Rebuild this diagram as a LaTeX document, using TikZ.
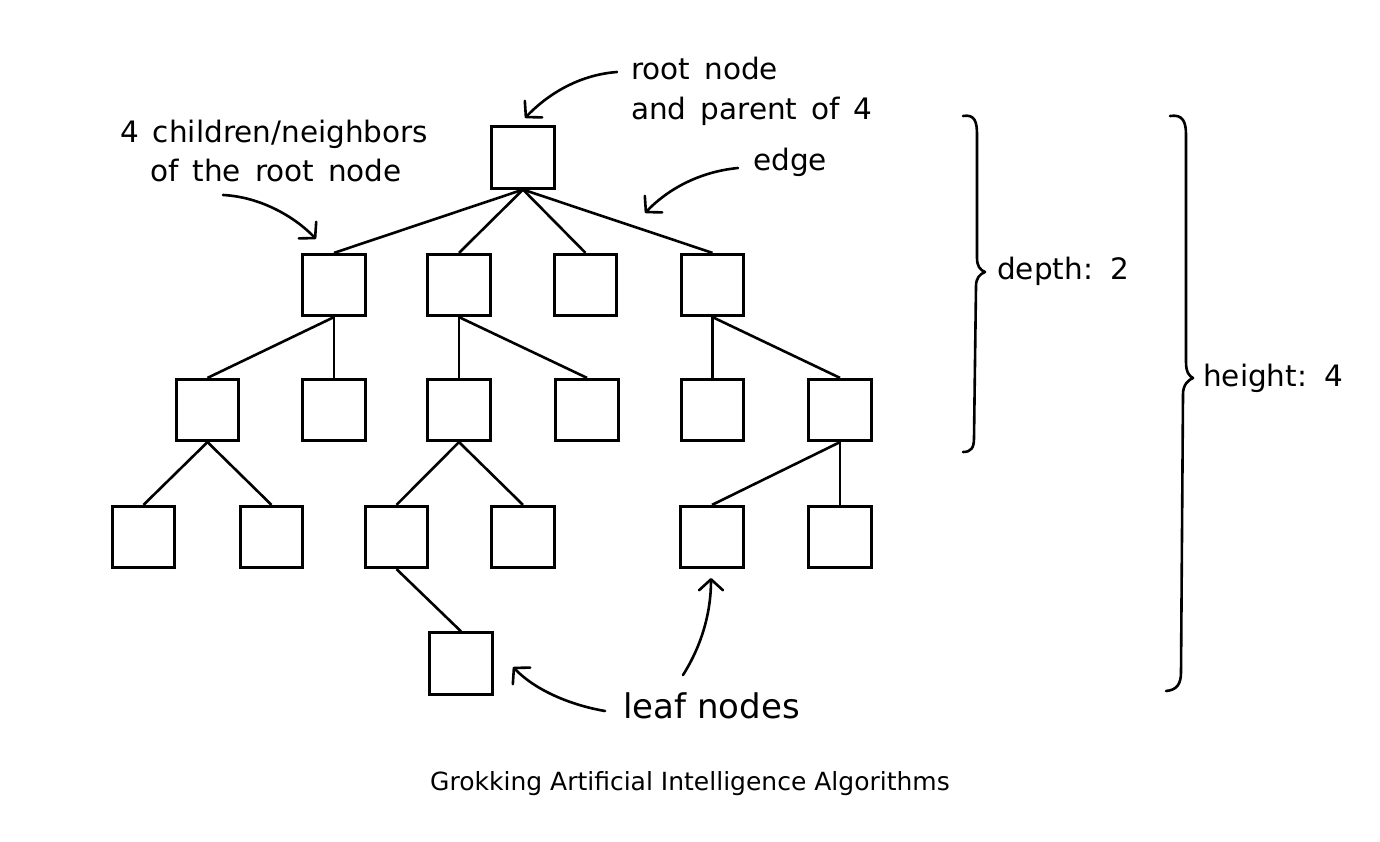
\documentclass[tikz,border=0pt]{standalone}
\usepackage{fontspec}
\setmainfont{DejaVu Sans}
\usetikzlibrary{arrows.meta}
\newcommand\lblfont{\fontsize{29.5}{36}\selectfont\spaceskip 14pt\relax}
\begin{document}
\begin{tikzpicture}[x=1pt,y=-1pt,
  box/.style={draw, line width=2.7pt, minimum width=62.5pt, minimum height=61.5pt, inner sep=0pt},
  edgeline/.style={line width=2.6pt},
  lbl/.style={anchor=base west, inner sep=0pt, font=\lblfont},
  bigl/.style={anchor=base west, inner sep=0pt, font=\fontsize{34}{40}\selectfont},
  pointer/.style={line width=2.6pt, line cap=round, -{Straight Barb[length=11pt,width=24pt,line cap=round,line join=round]}},
  bracepath/.style={line width=2.6pt, line cap=round, line join=round}
]
\useasboundingbox (0,0) rectangle (1380,842);
% tree nodes
\node[box] (r) at (523,157.5) {};
\node[box] (a) at (334,285) {};
\node[box] (b) at (459,285) {};
\node[box] (c) at (585.5,285) {};
\node[box] (d) at (712.5,285) {};
\node[box] (a1) at (207.5,410) {};
\node[box] (a2) at (334,410) {};
\node[box] (b1) at (459,410) {};
\node[box] (b2) at (587,410) {};
\node[box] (d1) at (712.5,410) {};
\node[box] (d2) at (840,410) {};
\node[box] (a11) at (143.5,537) {};
\node[box] (a12) at (271.5,537) {};
\node[box] (b11) at (396.5,537) {};
\node[box] (b12) at (523,537) {};
\node[box] (d21) at (712,537) {};
\node[box] (d22) at (840,537) {};
\node[box] (b111) at (461,663.5) {};
% edges
\foreach \p/\c in {r/a,r/b,r/c,r/d,a/a1,a/a2,b/b1,b/b2,d/d1,d/d2,a1/a11,a1/a12,b1/b11,b1/b12,d2/d21,d2/d22,b11/b111}
  \draw[edgeline] (\p.south) -- (\c.north);
% labels
\node[lbl] (rootl1) at (631,80) {root node};
\node[lbl] (rootl2) at (631,120) {and parent of 4};
\node[lbl] (edgel) at (753,171) {edge};
\node[lbl] (chl1) at (120,143) {4 children/neighbors};
\node[lbl] (chl2) at (150,182) {of the root node};
\node[bigl] (leafl) at (623,718) {leaf nodes};
\node[lbl] (depthl) at (997,279) {depth: 2};
\node[lbl] (heightl) at (1203,386) {height: 4};
\node[anchor=base, inner sep=0pt, font=\fontsize{25}{30}\selectfont] (cap) at (690,790) {Grokking Artificial Intelligence Algorithms};
% pointer coordinates
\coordinate (rs) at (617,72);   \coordinate (rt) at (525,118);
\coordinate (es) at (738,168);  \coordinate (et) at (645,213);
\coordinate (cs) at (223,195);  \coordinate (ct) at (316,239);
\coordinate (l1s) at (605,711); \coordinate (l1t) at (513,667);
\coordinate (l2s) at (683,675); \coordinate (l2t) at (711,578);
\draw[pointer] (rs) .. controls (577,75) and (546,96) .. (rt);
\draw[pointer] (es) .. controls (697,172) and (666,191) .. (et);
\draw[pointer] (cs) .. controls (262,197) and (296,218) .. (ct);
\draw[pointer] (l1s) .. controls (570,705) and (535,690) .. (l1t);
\draw[pointer] (l2s) .. controls (702,645) and (711,612) .. (l2t);
% braces
\draw[bracepath] (963,116) .. controls (975,114) and (977,122) .. (977,135) -- (977,258)
  .. controls (977,266) and (980,270) .. (985,272)
  .. controls (980,274) and (976,278) .. (976,286) -- (974,438)
  .. controls (974,448) and (971,452) .. (963,452);
\draw[bracepath] (1170,116) .. controls (1183,114) and (1186,122) .. (1186,135) -- (1186,362)
  .. controls (1186,372) and (1189,376) .. (1193,378)
  .. controls (1188,380) and (1183,385) .. (1183,394) -- (1181,672)
  .. controls (1181,684) and (1177,690) .. (1166,691);
\end{tikzpicture}
\end{document}
